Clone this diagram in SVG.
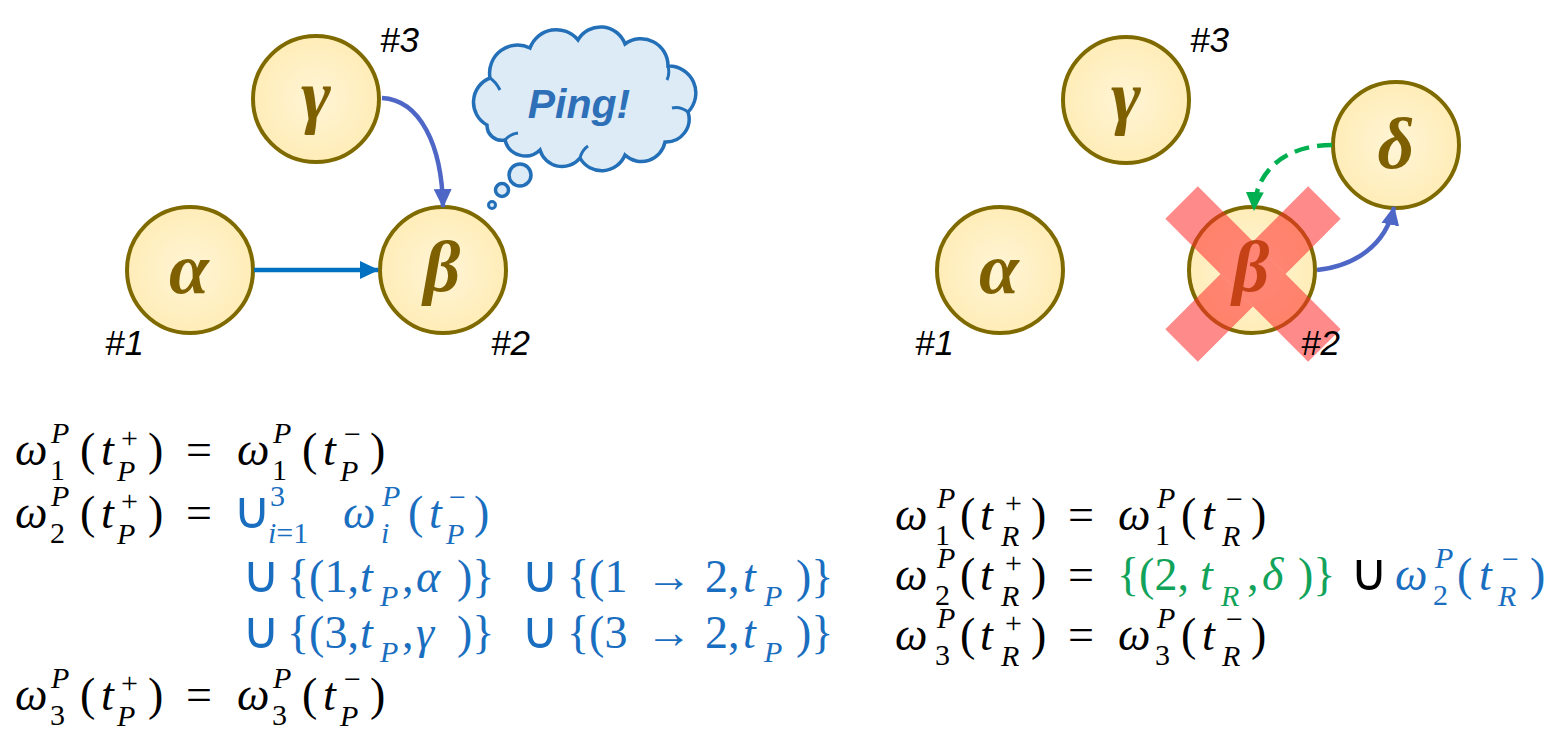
<svg xmlns="http://www.w3.org/2000/svg" width="1565" height="735" viewBox="0 0 1565 735">
<style>
.node circle{fill:url(#ng);stroke:#7F6A00;stroke-width:4}
.node text{font-family:"Liberation Serif",serif;font-weight:bold;font-style:italic;font-size:72px;fill:#7F6000;text-anchor:middle}
.lbl{font-family:"Liberation Sans",sans-serif;font-style:italic;font-size:35px;fill:#000}
.eq{font-family:"Liberation Serif",serif;font-size:46px;fill:#000}
.it{font-style:italic}
.sc{font-size:30px}
.cup{font-size:52px}
.blue{fill:#1A6EBF}
.green{fill:#12A35A}
.blk{fill:#000}
.conn path,.conn line{fill:none;stroke-width:4.5}
</style>
<defs>
<radialGradient id="ng" cx="50%" cy="50%" r="50%">
<stop offset="0" stop-color="#FFF5D6"/>
<stop offset="1" stop-color="#FFEDB8"/>
</radialGradient>
<marker id="aBlue" markerUnits="userSpaceOnUse" markerWidth="20" markerHeight="20" refX="18" refY="10" orient="auto"><path d="M0,1 L19,10 L0,19 z" fill="#0070C0"/></marker>
<marker id="aPur" markerUnits="userSpaceOnUse" markerWidth="20" markerHeight="20" refX="18" refY="10" orient="auto"><path d="M0,1 L19,10 L0,19 z" fill="#4E66C6"/></marker>
<marker id="aGrn" markerUnits="userSpaceOnUse" markerWidth="20" markerHeight="20" refX="18" refY="10" orient="auto"><path d="M0,1 L19,10 L0,19 z" fill="#00B050"/></marker>
</defs>
<rect width="1565" height="735" fill="#fff"/>

<!-- Left nodes -->
<g id="L-alpha" class="node"><circle cx="190" cy="270" r="63"/><text x="189" y="293">α</text></g>
<g id="L-beta" class="node"><circle cx="443" cy="270" r="63"/><text x="442" y="291">β</text></g>
<g id="L-gamma" class="node"><circle cx="316" cy="99" r="63"/><text x="316" y="120">γ</text></g>
<text class="lbl" x="105" y="355">#1</text>
<text class="lbl" x="491" y="355">#2</text>
<text class="lbl" x="380" y="52">#3</text>

<!-- Ping cloud -->
<g id="ping">
<path d="M487,125 A26,26 0 0,1 490,78 A28,28 0 0,1 530,48 A28,28 0 0,1 578,40 A26,26 0 0,1 625,44 A27,27 0 0,1 668,66 A27,27 0 0,1 688,112 A23,23 0 0,1 665,142 A24,24 0 0,1 625,155 A25,25 0 0,1 580,158 A23,23 0 0,1 540,150 A21,21 0 0,1 505,140 A15,15 0 0,1 487,125 Z" fill="#DDEBF7" stroke="#2470B8" stroke-width="3.5"/>
<path d="M490,78 Q496,82 500,90 M668,66 Q670,74 667,80 M688,112 Q680,106 672,108 M580,158 Q582,150 588,146 M505,140 Q510,134 518,133" fill="none" stroke="#2470B8" stroke-width="3"/>
<circle cx="520" cy="175" r="11" fill="#DDEBF7" stroke="#2470B8" stroke-width="3.5"/>
<circle cx="502" cy="190" r="6.5" fill="#DDEBF7" stroke="#2470B8" stroke-width="3.5"/>
<circle cx="492" cy="205" r="3.5" fill="#DDEBF7" stroke="#2470B8" stroke-width="3"/>
<text x="579" y="118" text-anchor="middle" font-family="Liberation Sans, sans-serif" font-weight="bold" font-style="italic" font-size="41" fill="#2E70B8">Ping!</text>
</g>

<!-- Right nodes -->
<g id="R-alpha" class="node"><circle cx="1000" cy="270" r="63"/><text x="999" y="293">α</text></g>
<g id="R-gamma" class="node"><circle cx="1126" cy="100" r="63"/><text x="1126" y="121">γ</text></g>
<g id="R-delta" class="node"><circle cx="1396" cy="145" r="63"/><text x="1396" y="168">δ</text></g>
<g id="R-beta" class="node"><circle cx="1252" cy="270" r="63"/><text x="1251" y="291">β</text>
<g fill="#FF2A2A" fill-opacity="0.55" transform="translate(1253,274) rotate(45)"><rect x="-101" y="-23" width="202" height="46"/><rect x="-23" y="-101" width="46" height="78"/><rect x="-23" y="23" width="46" height="78"/></g>
</g>
<text class="lbl" x="915" y="355">#1</text>
<text class="lbl" x="1301" y="355">#2</text>
<text class="lbl" x="1190" y="52">#3</text>

<!-- Connectors -->
<g id="connectors" class="conn">
<line x1="254" y1="270" x2="378" y2="270" stroke="#0070C0" marker-end="url(#aBlue)"/>
<path d="M382,98 C420,100 442,145 443,207" stroke="#4E66C6" marker-end="url(#aPur)"/>
<path d="M1332,145 C1292,145 1256,165 1254,210" stroke="#00B050" stroke-width="5" stroke-dasharray="15,8" marker-end="url(#aGrn)"/>
<path d="M1317,270 C1355,266 1386,245 1394,207" stroke="#4E66C6" marker-end="url(#aPur)"/>
</g>

<!-- Left equations -->
<g id="eq-left">
<text class="eq"><tspan x="15" y="465" class="it">ω</tspan><tspan x="51" y="443" class="it sc">P</tspan><tspan x="50" y="480" class="sc">1</tspan><tspan x="80" y="465">(</tspan><tspan x="101" y="465" class="it">t</tspan><tspan x="121" y="448" class="sc">+</tspan><tspan x="117" y="481" class="it sc">P</tspan><tspan x="148" y="465">)</tspan><tspan x="186" y="465">=</tspan><tspan x="237" y="465" class="it">ω</tspan><tspan x="273" y="443" class="it sc">P</tspan><tspan x="272" y="480" class="sc">1</tspan><tspan x="302" y="465">(</tspan><tspan x="323" y="465" class="it">t</tspan><tspan x="344" y="444" class="sc">−</tspan><tspan x="340" y="481" class="it sc">P</tspan><tspan x="370" y="465">)</tspan></text>

<text class="eq"><tspan x="15" y="528" class="it">ω</tspan><tspan x="51" y="506" class="it sc">P</tspan><tspan x="50" y="543" class="sc">2</tspan><tspan x="80" y="528">(</tspan><tspan x="101" y="528" class="it">t</tspan><tspan x="121" y="511" class="sc">+</tspan><tspan x="117" y="544" class="it sc">P</tspan><tspan x="148" y="528">)</tspan><tspan x="186" y="528">=</tspan><tspan x="233" y="528" class="blue cup">∪</tspan><tspan x="270" y="506" class="sc blue">3</tspan><tspan x="268" y="543" class="sc blue it">i</tspan><tspan class="sc blue">=1</tspan><tspan x="343" y="528" class="it blue">ω</tspan><tspan x="382" y="506" class="it sc blue">P</tspan><tspan x="381" y="543" class="it sc blue">i</tspan><tspan x="408" y="528" class="blue">(</tspan><tspan x="429" y="528" class="it blue">t</tspan><tspan x="449" y="507" class="sc blue">−</tspan><tspan x="446" y="544" class="it sc blue">P</tspan><tspan x="474" y="528" class="blue">)</tspan></text>

<text class="eq blue"><tspan x="242" y="592" class="cup">∪</tspan><tspan x="287" y="592">{(1,</tspan><tspan x="360" y="592" class="it">t</tspan><tspan x="380" y="606" class="it sc">P</tspan><tspan x="402" y="592">,</tspan><tspan x="416" y="592" class="it">α</tspan><tspan x="457" y="592">)}</tspan><tspan x="521" y="592" class="cup">∪</tspan><tspan x="567" y="592">{(1</tspan><tspan x="646" y="592">→</tspan><tspan x="705" y="592">2,</tspan><tspan x="743" y="592" class="it">t</tspan><tspan x="764" y="606" class="it sc">P</tspan><tspan x="796" y="592">)}</tspan></text>

<text class="eq blue"><tspan x="242" y="648" class="cup">∪</tspan><tspan x="287" y="648">{(3,</tspan><tspan x="360" y="648" class="it">t</tspan><tspan x="380" y="662" class="it sc">P</tspan><tspan x="402" y="648">,</tspan><tspan x="416" y="648" class="it">γ</tspan><tspan x="457" y="648">)}</tspan><tspan x="521" y="648" class="cup">∪</tspan><tspan x="567" y="648">{(3</tspan><tspan x="646" y="648">→</tspan><tspan x="705" y="648">2,</tspan><tspan x="743" y="648" class="it">t</tspan><tspan x="764" y="662" class="it sc">P</tspan><tspan x="796" y="648">)}</tspan></text>

<text class="eq"><tspan x="15" y="710" class="it">ω</tspan><tspan x="51" y="688" class="it sc">P</tspan><tspan x="50" y="725" class="sc">3</tspan><tspan x="80" y="710">(</tspan><tspan x="101" y="710" class="it">t</tspan><tspan x="121" y="693" class="sc">+</tspan><tspan x="117" y="726" class="it sc">P</tspan><tspan x="148" y="710">)</tspan><tspan x="186" y="710">=</tspan><tspan x="237" y="710" class="it">ω</tspan><tspan x="273" y="688" class="it sc">P</tspan><tspan x="272" y="725" class="sc">3</tspan><tspan x="302" y="710">(</tspan><tspan x="323" y="710" class="it">t</tspan><tspan x="344" y="689" class="sc">−</tspan><tspan x="340" y="726" class="it sc">P</tspan><tspan x="370" y="710">)</tspan></text>
</g>

<!-- Right equations -->
<g id="eq-right">
<text class="eq"><tspan x="895" y="530" class="it">ω</tspan><tspan x="937" y="508" class="it sc">P</tspan><tspan x="935" y="545" class="sc">1</tspan><tspan x="960" y="530">(</tspan><tspan x="980" y="530" class="it">t</tspan><tspan x="1005" y="513" class="sc">+</tspan><tspan x="1001" y="546" class="it sc">R</tspan><tspan x="1031" y="530">)</tspan><tspan x="1068" y="530">=</tspan><tspan x="1118" y="530" class="it">ω</tspan><tspan x="1157" y="508" class="it sc">P</tspan><tspan x="1155" y="545" class="sc">1</tspan><tspan x="1181" y="530">(</tspan><tspan x="1202" y="530" class="it">t</tspan><tspan x="1226" y="509" class="sc">−</tspan><tspan x="1222" y="546" class="it sc">R</tspan><tspan x="1251" y="530">)</tspan></text>

<text class="eq"><tspan x="895" y="590" class="it">ω</tspan><tspan x="937" y="568" class="it sc">P</tspan><tspan x="935" y="605" class="sc">2</tspan><tspan x="960" y="590">(</tspan><tspan x="980" y="590" class="it">t</tspan><tspan x="1005" y="573" class="sc">+</tspan><tspan x="1001" y="606" class="it sc">R</tspan><tspan x="1031" y="590">)</tspan><tspan x="1068" y="590">=</tspan><tspan x="1117" y="590" class="green">{(2,</tspan><tspan x="1200" y="590" class="green it">t</tspan><tspan x="1221" y="606" class="green it sc">R</tspan><tspan x="1247" y="590" class="green">,</tspan><tspan x="1262" y="590" class="green it">δ</tspan><tspan x="1298" y="590" class="green">)}</tspan><tspan x="1350" y="590" class="blk cup">∪</tspan><tspan x="1395" y="590" class="blue it">ω</tspan><tspan x="1435" y="568" class="blue it sc">P</tspan><tspan x="1433" y="605" class="blue sc">2</tspan><tspan x="1457" y="590" class="blue">(</tspan><tspan x="1479" y="590" class="blue it">t</tspan><tspan x="1502" y="569" class="blue sc">−</tspan><tspan x="1498" y="606" class="blue it sc">R</tspan><tspan x="1530" y="590" class="blue">)</tspan></text>

<text class="eq"><tspan x="895" y="650" class="it">ω</tspan><tspan x="937" y="628" class="it sc">P</tspan><tspan x="935" y="665" class="sc">3</tspan><tspan x="960" y="650">(</tspan><tspan x="980" y="650" class="it">t</tspan><tspan x="1005" y="633" class="sc">+</tspan><tspan x="1001" y="666" class="it sc">R</tspan><tspan x="1031" y="650">)</tspan><tspan x="1068" y="650">=</tspan><tspan x="1118" y="650" class="it">ω</tspan><tspan x="1157" y="628" class="it sc">P</tspan><tspan x="1155" y="665" class="sc">3</tspan><tspan x="1181" y="650">(</tspan><tspan x="1202" y="650" class="it">t</tspan><tspan x="1226" y="629" class="sc">−</tspan><tspan x="1222" y="666" class="it sc">R</tspan><tspan x="1251" y="650">)</tspan></text>
</g>
</svg>
